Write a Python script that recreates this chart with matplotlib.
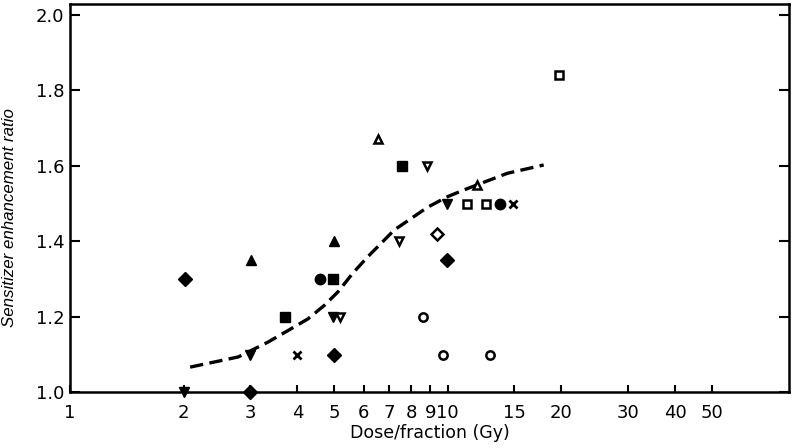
import matplotlib
matplotlib.use("Agg")
import matplotlib.pyplot as plt
from matplotlib.ticker import FixedLocator, FixedFormatter, NullLocator

# ---- data ----
# filled markers
fd_x = [2.01, 3.0, 5.0, 9.98]          # filled diamond
fd_y = [1.30, 1.00, 1.10, 1.35]
fv_x = [2.0, 2.99, 4.98, 9.94]         # filled down-triangle
fv_y = [1.00, 1.10, 1.20, 1.50]
fu_x = [3.02, 4.99]                    # filled up-triangle
fu_y = [1.35, 1.40]
fs_x = [3.71, 4.98, 7.59]              # filled square
fs_y = [1.20, 1.30, 1.60]
fc_x = [4.60, 13.74]                   # filled circle
fc_y = [1.30, 1.50]
xx_x = [4.0, 14.9]                     # x marker
xx_y = [1.10, 1.50]
# open markers
ou_x = [6.52, 11.97]                   # open up-triangle
ou_y = [1.67, 1.55]
ov_x = [5.19, 7.44, 8.84]              # open down-triangle
ov_y = [1.20, 1.40, 1.60]
od_x = [9.39]                          # open diamond
od_y = [1.42]
oc_x = [8.61, 9.72, 12.91]             # open circle
oc_y = [1.20, 1.10, 1.10]
os_x = [11.22, 12.6, 19.75]            # open square
os_y = [1.50, 1.50, 1.84]

# dashed trend curve
curve_x = [2.08, 2.79, 3.34, 3.78, 4.27, 4.72, 5.12, 5.60, 6.14, 7.22,
           8.84, 9.98, 11.04, 12.22, 14.38, 17.95]
curve_y = [1.067, 1.094, 1.133, 1.164, 1.195, 1.231, 1.266, 1.315, 1.359,
           1.430, 1.490, 1.518, 1.536, 1.553, 1.580, 1.602]

x_ticks = [1, 2, 3, 4, 5, 6, 7, 8, 9, 10, 15, 20, 30, 40, 50]
x_tick_labels = ["1", "2", "3", "4", "5", "6", "7", "8", "9", "10",
                 "15", "20", "30", "40", "50"]
y_ticks = [1.0, 1.2, 1.4, 1.6, 1.8, 2.0]
y_tick_labels = ["1.0", "1.2", "1.4", "1.6", "1.8", "2.0"]

# ---- figure ----
fig = plt.figure(figsize=(7.97, 4.48), dpi=100)
ax = fig.add_axes([0.0878, 0.124, 0.902, 0.867])
ax.set_xscale("log")
ax.set_xlim(1, 80)
ax.set_ylim(1.0, 2.028)

ax.plot(curve_x, curve_y, color="black", lw=2.4, linestyle=(0, (4.0, 1.9)),
        dash_capstyle="butt")

ms = 7.5
common = dict(linestyle="none", color="black", clip_on=False, zorder=3)
ax.plot(fd_x, fd_y, marker="D", markersize=ms * 0.95, **common)
ax.plot(fv_x, fv_y, marker="v", markersize=ms, **common)
ax.plot(fu_x, fu_y, marker="^", markersize=ms, **common)
ax.plot(fs_x, fs_y, marker="s", markersize=ms * 0.95, **common)
ax.plot(fc_x, fc_y, marker="o", markersize=ms, **common)
ax.plot(xx_x, xx_y, marker="x", markersize=ms * 0.75, markeredgewidth=2.0, **common)

open_kw = dict(linestyle="none", markerfacecolor="white", markeredgecolor="black",
               markeredgewidth=1.8, clip_on=False, zorder=3)
ax.plot(ou_x, ou_y, marker="^", markersize=ms * 0.8, **open_kw)
ax.plot(ov_x, ov_y, marker="v", markersize=ms * 0.8, **open_kw)
ax.plot(od_x, od_y, marker="D", markersize=ms * 0.8, **open_kw)
ax.plot(oc_x, oc_y, marker="o", markersize=ms * 0.8, **open_kw)
ax.plot(os_x, os_y, marker="s", markersize=ms * 0.8, **open_kw)

# ticks
ax.xaxis.set_major_locator(FixedLocator(x_ticks))
ax.xaxis.set_major_formatter(FixedFormatter(x_tick_labels))
ax.xaxis.set_minor_locator(NullLocator())
ax.yaxis.set_major_locator(FixedLocator(y_ticks))
ax.yaxis.set_major_formatter(FixedFormatter(y_tick_labels))

ax.tick_params(axis="x", direction="in", length=5, width=1.5, pad=8,
               labelsize=13, top=False)
ax.tick_params(axis="y", direction="in", length=7, width=1.5, pad=4,
               labelsize=13, left=True, right=True)

for s in ax.spines.values():
    s.set_linewidth(1.8)

ax.set_xlabel("Dose/fraction (Gy)", fontsize=12.5, labelpad=2)
ax.set_ylabel("Sensitizer enhancement ratio", fontsize=12.2, style="italic",
              family="Liberation Sans")
ax.yaxis.set_label_coords(-0.074, 0.45)

fig.savefig("out.png", dpi=100)
